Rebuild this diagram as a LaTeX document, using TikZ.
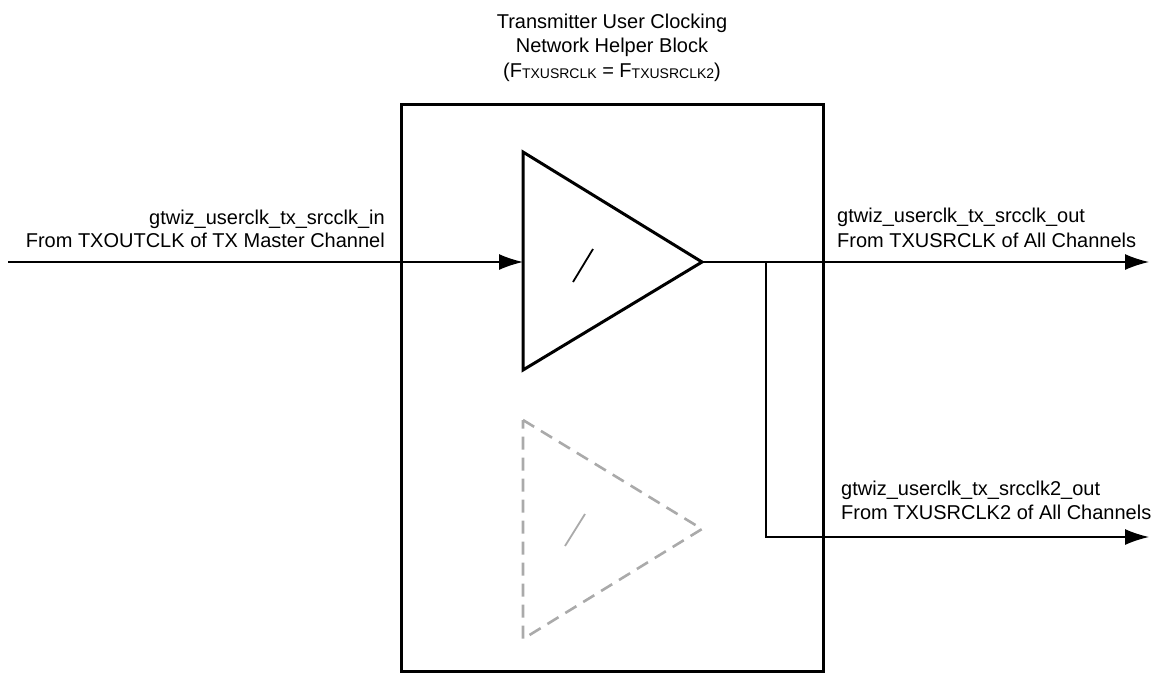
\documentclass[tikz,border=0pt]{standalone}
\usepackage{fontspec}
\setmainfont{Liberation Sans}
\usetikzlibrary{arrows.meta}
\begin{document}
\begin{tikzpicture}[x=1pt,y=-1pt,
  lbl/.style={inner sep=0pt, font=\fontsize{20}{24}\selectfont},
  conn/.style={line width=1.5pt},
  arr/.style={conn, -{Latex[length=24pt,width=16pt]}},
  tri/.style={line width=3pt, line join=miter},
  ghost/.style={line width=2.6pt, draw={rgb,255:red,170;green,170;blue,170}, dash pattern=on 13pt off 8pt},
  sub/.style={}]
\useasboundingbox (0,0) rectangle (1171,673);
% block
\node[draw, line width=3pt, minimum width=422pt, minimum height=567pt, inner sep=0pt] (box) at (612,387.5) {};
% title
\node[lbl, anchor=base] (t1) at (612,28) {Transmitter User Clocking};
\node[lbl, anchor=base] (t2) at (612,52.5) {Network Helper Block};
\node[lbl, anchor=base] (t3) at (612,77) {(F\raisebox{-1pt}{\fontsize{14}{14}\selectfont TXUSRCLK} = F\raisebox{-1pt}{\fontsize{14}{14}\selectfont TXUSRCLK2})};
% solid buffer
\coordinate (aT) at (523,152);
\coordinate (aB) at (523,370);
\coordinate (aO) at (702,262);
\coordinate (aI) at (523,262);
\draw[tri] (aT) -- (aO) -- (aB) -- cycle;
\coordinate (s1a) at (573,282);
\coordinate (s1b) at (593,249);
\draw[line width=1.8pt] (s1a) -- (s1b);
% ghost buffer
\coordinate (bT) at (523,420);
\coordinate (bB) at (523,639);
\coordinate (bO) at (702,529);
\draw[ghost] (bT) -- (bO) -- (bB) -- cycle;
\coordinate (s2a) at (565,546);
\coordinate (s2b) at (585,514);
\draw[line width=1.8pt, draw={rgb,255:red,170;green,170;blue,170}] (s2a) -- (s2b);
% input
\coordinate (inS) at (8,262);
\draw[arr] (inS) -- (aI);
\node[lbl, anchor=base east] (l1) at (385,224) {gtwiz\_userclk\_tx\_srcclk\_in};
\node[lbl, anchor=base east] (l2) at (385,247.5) {From TXOUTCLK of TX Master Channel};
% outputs
\coordinate (o1) at (1149,262);
\coordinate (br) at (766,262);
\coordinate (brc) at (766,537);
\coordinate (o2) at (1149,537);
\draw[arr] (aO) -- (o1);
\draw[arr] (br) -- (brc) -- (o2);
\node[lbl, anchor=base west] (r1) at (837,222) {gtwiz\_userclk\_tx\_srcclk\_out};
\node[lbl, anchor=base west] (r2) at (837,247) {From TXUSRCLK of All Channels};
\node[lbl, anchor=base west] (r3) at (841,495) {gtwiz\_userclk\_tx\_srcclk2\_out};
\node[lbl, anchor=base west] (r4) at (841,519) {From TXUSRCLK2 of All Channels};
\end{tikzpicture}
\end{document}
